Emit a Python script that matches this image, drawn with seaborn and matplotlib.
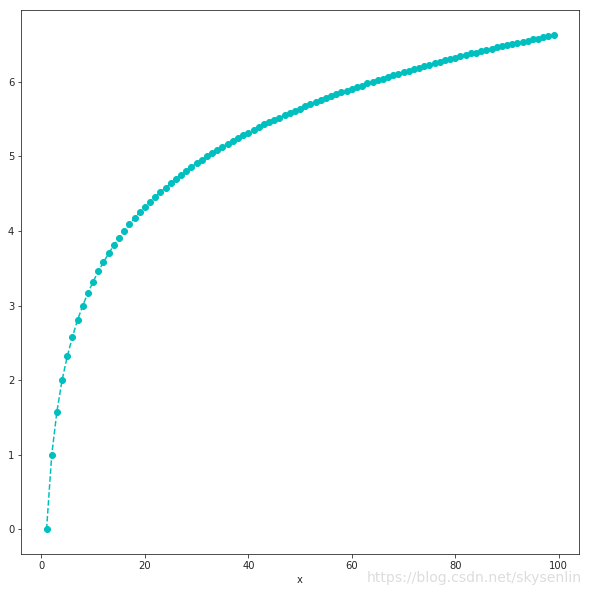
import pandas as pd
import matplotlib
matplotlib.use('Agg')
import matplotlib.pyplot as plt
import seaborn as sns

# x values and y values
x_vals = list(range(1, 100))
y_vals = [0.00, 1.00, 1.58, 2.00, 2.32, 2.58, 2.81, 3.00, 3.17, 3.32,
          3.46, 3.58, 3.70, 3.81, 3.91, 4.00, 4.09, 4.17, 4.25, 4.32,
          4.39, 4.46, 4.52, 4.58, 4.64, 4.70, 4.75, 4.81, 4.86, 4.91,
          4.95, 5.00, 5.04, 5.09, 5.13, 5.17, 5.21, 5.25, 5.29, 5.32,
          5.36, 5.39, 5.43, 5.46, 5.49, 5.52, 5.55, 5.58, 5.61, 5.64,
          5.67, 5.70, 5.73, 5.75, 5.78, 5.81, 5.83, 5.86, 5.88, 5.91,
          5.93, 5.95, 5.98, 6.00, 6.02, 6.04, 6.07, 6.09, 6.11, 6.13,
          6.15, 6.17, 6.19, 6.21, 6.23, 6.25, 6.27, 6.29, 6.30, 6.32,
          6.34, 6.36, 6.38, 6.39, 6.41, 6.43, 6.44, 6.46, 6.48, 6.49,
          6.51, 6.52, 6.54, 6.55, 6.57, 6.58, 6.60, 6.61, 6.63]

df = pd.DataFrame({'x': x_vals, 'y': y_vals})

sns.set_style('ticks')
plt.rcParams['font.family'] = ['DejaVu Sans']

fig = plt.figure(figsize=(589/72, 592/72), dpi=72)
ax = fig.add_axes([0.036, 0.064, 0.947, 0.919])
sns.lineplot(data=df, x='x', y='y', color='c', linestyle='--', marker='o',
             markersize=6, markeredgewidth=1, markeredgecolor='c', ax=ax)
ax.set_xlabel('x', fontsize=10)
ax.set_ylabel('')
ax.tick_params(labelsize=10, length=3.5, color='.15')

# watermark
fig.text(0.988, 0.012, 'https://blog.csdn.net/skysenlin', ha='right', va='bottom',
         fontsize=14, color='#dddddd')

fig.savefig('out.png', dpi=72)
